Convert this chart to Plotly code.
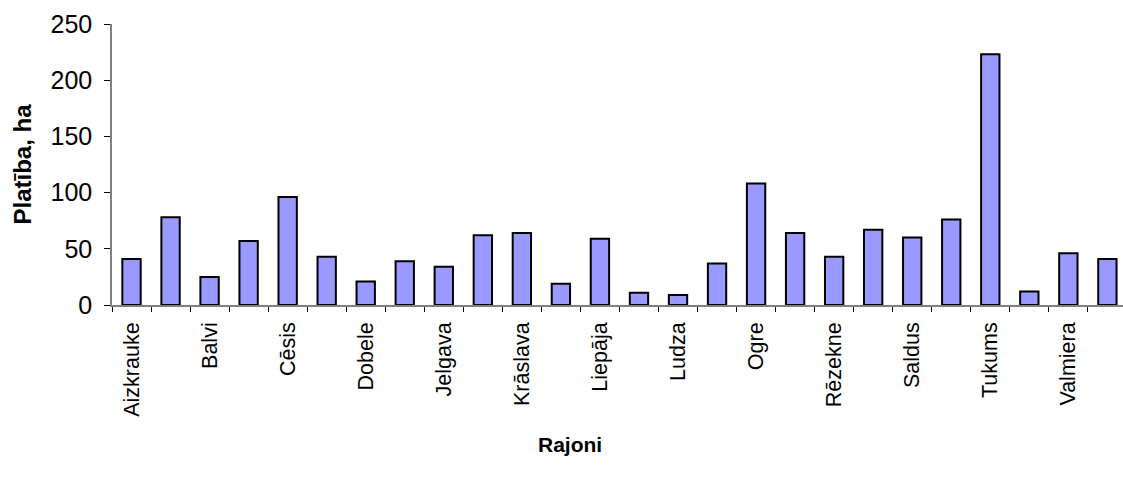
import plotly.graph_objects as go

# Districts (rajoni) and area in hectares
rajoni = [
    "Aizkrauke", "Alūksne", "Balvi", "Bauska", "Cēsis", "Daugavpils",
    "Dobele", "Gulbene", "Jelgava", "Jēkabpils", "Krāslava", "Kuldīga",
    "Liepāja", "Limbaži", "Ludza", "Madona", "Ogre", "Preiļi",
    "Rēzekne", "Rīga", "Saldus", "Talsi", "Tukums", "Valka",
    "Valmiera", "Ventspils",
]
platiba = [
    41, 78, 25, 57, 96, 43,
    21, 39, 34, 62, 64, 19,
    59, 11, 9, 37, 108, 64,
    43, 67, 60, 76, 223, 12,
    46, 41,
]
# Only every other district name is printed on the axis
tick_text = [name if i % 2 == 0 else "" for i, name in enumerate(rajoni)]
y_ticks = [0, 50, 100, 150, 200, 250]

font_family = "Arial, Liberation Sans, sans-serif"

fig = go.Figure(
    go.Bar(
        x=rajoni,
        y=platiba,
        marker=dict(color="#9999FF", line=dict(color="#000000", width=2)),
        width=0.47,
    )
)

fig.update_layout(
    width=1123,
    height=486,
    margin=dict(l=112, r=0, t=24, b=181),
    paper_bgcolor="white",
    plot_bgcolor="white",
    showlegend=False,
    font=dict(family=font_family, color="#000000"),
)

fig.update_xaxes(
    type="category",
    range=[-0.5, 25.4],
    tickmode="array",
    tickvals=rajoni,
    ticktext=tick_text,
    tickson="boundaries",
    tickangle=-90,
    tickfont=dict(size=21.5, family=font_family),
    ticks="outside",
    ticklen=5,
    tickcolor="#000000",
    showline=True,
    linecolor="#808080",
    linewidth=1.5,
    showgrid=False,
    ticklabelstandoff=7,
)

fig.update_yaxes(
    range=[0, 250],
    tickmode="array",
    tickvals=y_ticks,
    tickfont=dict(size=25, family=font_family),
    ticks="outside",
    ticklen=6,
    tickcolor="#000000",
    showline=True,
    linecolor="#808080",
    linewidth=1.5,
    showgrid=False,
    zeroline=False,
    ticklabelstandoff=7,
)

fig.add_annotation(
    text="<b>Platība, ha</b>",
    xref="paper", yref="paper",
    x=-0.089, y=0.5,
    xanchor="center", yanchor="middle",
    textangle=-90,
    showarrow=False,
    font=dict(size=24, family=font_family, color="#000000"),
)
fig.add_annotation(
    text="<b>Rajoni</b>",
    xref="paper", yref="paper",
    x=0.4535, y=-0.495,
    xanchor="center", yanchor="middle",
    showarrow=False,
    font=dict(size=21, family=font_family, color="#000000"),
)

fig.write_html("out.html")
